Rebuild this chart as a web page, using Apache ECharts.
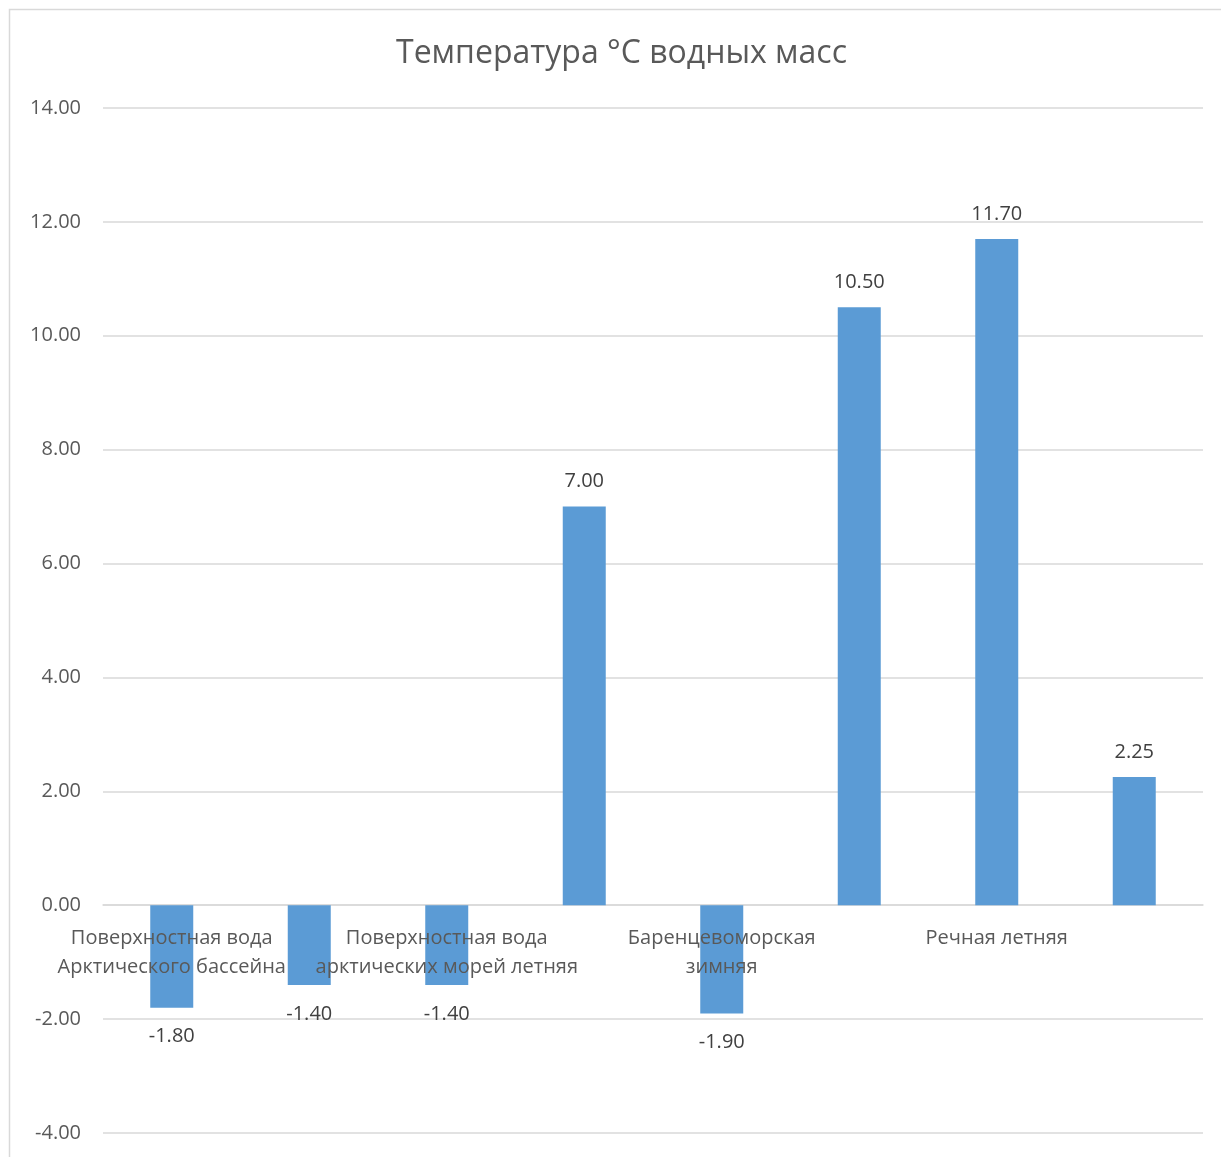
<!DOCTYPE html>
<html>
<head>
<meta charset="utf-8">
<script src="https://cdn.jsdelivr.net/npm/echarts@6/dist/echarts.min.js"></script>
<style>
html,body{margin:0;padding:0;background:#fff;}
#c{width:1221px;height:1157px;}
</style>
</head>
<body>
<div id="c"></div>
<script>
var title = 'Температура °C водных масс';
var categories = [
  'Поверхностная вода\nАрктического бассейна',
  'Поверхностная вода\nАрктического бассейна летняя',
  'Поверхностная вода\nарктических морей летняя',
  'Атлантическая',
  'Баренцевоморская\nзимняя',
  'Баренцевоморская\nлетняя',
  'Речная летняя',
  'Речная зимняя'
];
var values = [-1.80, -1.40, -1.40, 7.00, -1.90, 10.50, 11.70, 2.25];
var yMin = -4, yMax = 14, yStep = 2;

var FONT = '"Open Sans", "Noto Sans", sans-serif';

// category labels shown on every other category (as in the source), anchored at y = 0
var catLabelData = [];
categories.forEach(function (c, i) {
  if (i % 2 === 0) catLabelData.push({value: [c, 0], name: c});
});

var chart = echarts.init(document.getElementById('c'), null, {renderer: 'canvas'});
chart.setOption({
  backgroundColor: '#ffffff',
  animation: false,
  title: {
    text: title,
    left: 391,
    top: 33,
    textStyle: {fontFamily: FONT, fontSize: 32, fontWeight: 'normal', color: '#595959'}
  },
  graphic: [{
    type: 'rect',
    shape: {x: 9.5, y: 9.5, width: 1230, height: 1200},
    style: {fill: 'none', stroke: '#d9d9d9', lineWidth: 1.5},
    silent: true, z: -10
  }],
  grid: {left: 103, right: 18, top: 108, bottom: 24, containLabel: false, outerBoundsMode: 'none'},
  xAxis: {
    type: 'category',
    data: categories,
    axisLine: {onZero: true, lineStyle: {color: '#d9d9d9', width: 1.5}},
    axisTick: {show: false},
    axisLabel: {show: false}
  },
  yAxis: {
    type: 'value',
    min: yMin, max: yMax, interval: yStep,
    axisLine: {show: false},
    axisTick: {show: false},
    splitLine: {lineStyle: {color: '#d9d9d9', width: 1.5}},
    axisLabel: {
      margin: 22,
      fontFamily: FONT, fontSize: 20, color: '#595959',
      formatter: function (v) { return v.toFixed(2); }
    }
  },
  series: [{
    type: 'bar',
    barWidth: 43,
    z: 2,
    itemStyle: {color: '#5b9bd5'},
    data: values.map(function (v) {
      return {value: v, label: {position: v < 0 ? 'bottom' : 'top', distance: v < 0 ? 19 : 15}};
    }),
    label: {
      show: true,
      fontFamily: FONT, fontSize: 20, color: '#404040',
      formatter: function (p) { return p.value.toFixed(2); }
    }
  }, {
    type: 'scatter',
    z: 5,
    symbolSize: 0,
    silent: true,
    itemStyle: {opacity: 1},
    data: catLabelData,
    label: {
      show: true,
      position: 'bottom',
      distance: 19,
      align: 'center',
      opacity: 1,
      textBorderWidth: 0,
      fontFamily: FONT, fontSize: 20, color: '#595959', lineHeight: 29,
      formatter: function (p) { return p.name; }
    }
  }]
});
</script>
</body>
</html>
